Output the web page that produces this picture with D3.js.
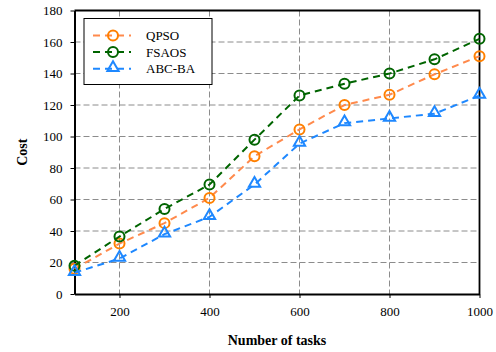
<!DOCTYPE html>
<html>
<head>
<meta charset="utf-8">
<script src="https://cdn.jsdelivr.net/npm/d3@7"></script>
<style>
  body { margin: 0; background: #fff; }
  svg text { font-family: "Times New Roman", "Liberation Serif", Times, serif; }
</style>
</head>
<body>
<div id="chart"></div>
<script>
// data
const tasks = [100, 200, 300, 400, 500, 600, 700, 800, 900, 1000];
const qpso = [16, 32, 45, 61, 87.5, 104.5, 120, 126.5, 139.5, 151];
const fsaos = [18, 36.5, 54, 69.5, 98, 126, 133.5, 140, 149, 162];
const abcba = [13.5, 22.5, 38, 49, 69.5, 95.5, 108.5, 111.5, 114.5, 126];
const xTicks = [200, 400, 600, 800, 1000];
const yTicks = [0, 20, 40, 60, 80, 100, 120, 140, 160, 180];

const series = [
  { name: 'QPSO', values: qpso, line: '#ff8a4c', marker: '#ff8000', shape: 'circle', fill: 'none' },
  { name: 'FSAOS', values: fsaos, line: '#006400', marker: '#006400', shape: 'circle', fill: 'none' },
  { name: 'ABC-BA', values: abcba, line: '#1e88ff', marker: '#1e88ff', shape: 'triangle', fill: 'none' }
];

const width = 496, height = 352;
const margin = { top: 10.5, right: 16.5, bottom: 58, left: 74.5 };
const chartWidth = width - margin.left - margin.right;
const chartHeight = height - margin.top - margin.bottom;

const svg = d3.select('#chart').append('svg')
  .attr('width', width)
  .attr('height', height);

const g = svg.append('g')
  .attr('transform', `translate(${margin.left},${margin.top})`);

const x = d3.scaleLinear().domain([100, 1000]).range([0, chartWidth]);
const y = d3.scaleLinear().domain([0, 180]).range([chartHeight, 0]);

// grid
g.append('g').selectAll('line')
  .data(yTicks.slice(1, -1))
  .join('line')
  .attr('x1', 0).attr('x2', chartWidth)
  .attr('y1', d => y(d)).attr('y2', d => y(d))
  .attr('stroke', '#8c8c8c').attr('stroke-width', 1)
  .attr('stroke-dasharray', '6,3');
g.append('g').selectAll('line')
  .data(xTicks.slice(0, -1))
  .join('line')
  .attr('x1', d => x(d)).attr('x2', d => x(d))
  .attr('y1', 0).attr('y2', chartHeight)
  .attr('stroke', '#8c8c8c').attr('stroke-width', 1)
  .attr('stroke-dasharray', '6,3');

// axes
const xAxis = g.append('g')
  .attr('transform', `translate(0,${chartHeight})`)
  .call(d3.axisBottom(x).tickValues(xTicks).tickFormat(d3.format('d'))
    .tickSize(4).tickSizeOuter(0).tickPadding(9));
const yAxis = g.append('g')
  .call(d3.axisLeft(y).tickValues(yTicks).tickFormat(d3.format('d'))
    .tickSize(4).tickSizeOuter(0).tickPadding(8));
[xAxis, yAxis].forEach(a => {
  a.attr('font-family', null).attr('font-size', null);
  a.select('.domain').attr('stroke', '#000').attr('stroke-width', 2);
  a.selectAll('.tick line').attr('stroke', '#000').attr('stroke-width', 1);
  a.selectAll('.tick text')
    .attr('font-size', 13)
    .attr('fill', '#000');
});

// frame top and right
g.append('path')
  .attr('d', `M0,0H${chartWidth}V${chartHeight}`)
  .attr('fill', 'none')
  .attr('stroke', '#000')
  .attr('stroke-width', 1.8);

const line = d3.line()
  .x((d, i) => x(tasks[i]))
  .y(d => y(d));

const triangle = d3.symbol().type(d3.symbolTriangle).size(55);

function drawMarker(sel, s) {
  if (s.shape === 'circle') {
    sel.append('circle').attr('r', 5)
      .attr('fill', s.fill).attr('stroke', s.marker).attr('stroke-width', 2);
  } else {
    sel.append('path').attr('d', triangle).attr('transform', 'translate(0,-1)')
      .attr('fill', s.fill).attr('stroke', s.marker).attr('stroke-width', 2);
  }
}

series.forEach(s => {
  g.append('path')
    .datum(s.values)
    .attr('fill', 'none')
    .attr('stroke', s.line)
    .attr('stroke-width', 2)
    .attr('stroke-dasharray', '7,5')
    .attr('d', line);
  g.append('g').selectAll('g')
    .data(s.values)
    .join('g')
    .attr('transform', (d, i) => `translate(${x(tasks[i])},${y(d)})`)
    .each(function () { drawMarker(d3.select(this), s); });
});

// legend
const legend = g.append('g').attr('transform', 'translate(9.5,8)');
legend.append('rect')
  .attr('width', 128).attr('height', 66)
  .attr('fill', '#fff').attr('stroke', '#000').attr('stroke-width', 1);
series.forEach((s, i) => {
  const row = legend.append('g').attr('transform', `translate(0,${17 + i * 16.6})`);
  row.append('line')
    .attr('x1', 9).attr('x2', 47)
    .attr('stroke', s.line).attr('stroke-width', 2)
    .attr('stroke-dasharray', '7,5');
  const m = row.append('g').attr('transform', 'translate(29,0)');
  drawMarker(m, s);
  row.append('text')
    .attr('x', 62).attr('y', 0).attr('dy', '0.35em')
    .attr('font-size', 13)
    .text(s.name);
});

// axis titles
svg.append('text')
  .attr('x', margin.left + chartWidth / 2).attr('y', 345)
  .attr('text-anchor', 'middle')
  .attr('font-size', 14).attr('font-weight', 'bold')
  .text('Number of tasks');
svg.append('text')
  .attr('transform', `translate(27,${margin.top + chartHeight / 2}) rotate(-90)`)
  .attr('text-anchor', 'middle')
  .attr('font-size', 14).attr('font-weight', 'bold')
  .text('Cost');
</script>
</body>
</html>
